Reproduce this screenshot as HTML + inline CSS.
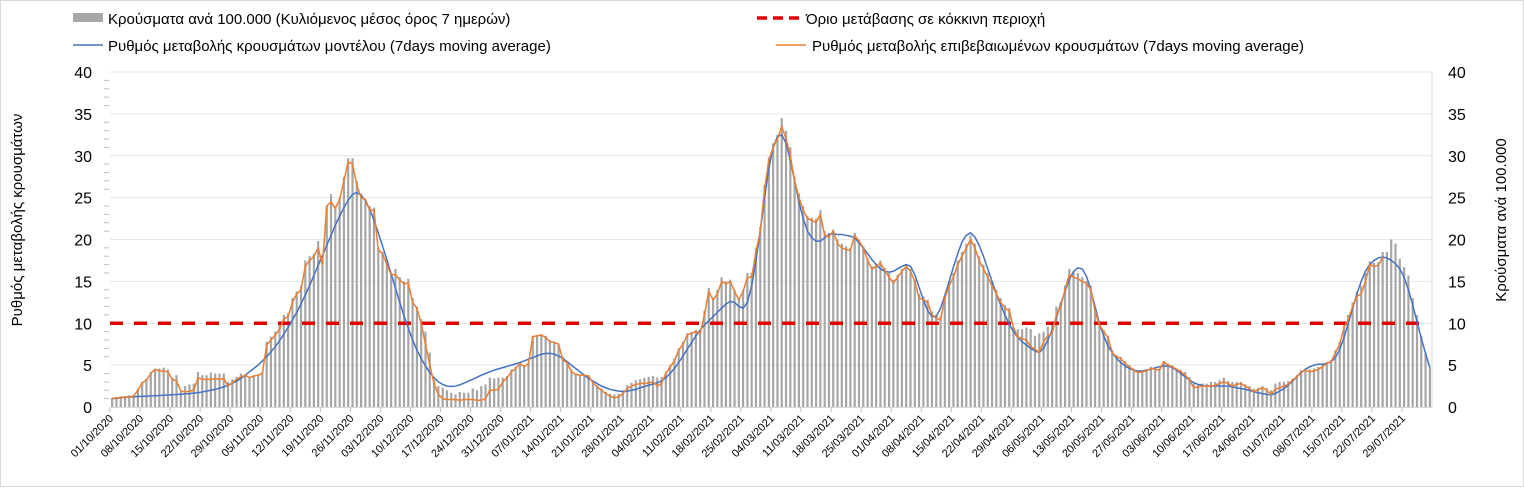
<!DOCTYPE html>
<html><head><meta charset="utf-8">
<style>
html,body{margin:0;padding:0;background:#fff;}
body{width:1524px;height:487px;overflow:hidden;font-family:"Liberation Sans","DejaVu Sans",sans-serif;}
svg text{font-family:"Liberation Sans","DejaVu Sans",sans-serif;}
</style></head>
<body>
<svg id="chart" width="1524" height="487" viewBox="0 0 1524 487" xmlns="http://www.w3.org/2000/svg">
  <rect x="0.5" y="0.5" width="1523" height="486" fill="#fff" stroke="#d9d9d9"/>
  <g id="grid"></g>
  <g id="bars"></g>
  <g id="lines"></g>
  <g id="axes"></g>
  <g>
    <g>
      <rect x="73" y="13" width="30" height="9" fill="#a6a6a6"/>
      <text x="108" y="24" font-size="15" fill="#000">Κρούσματα ανά 100.000 (Κυλιόμενος μέσος όρος 7 ημερών)</text>
    </g>
    <g>
      <line x1="757" y1="18" x2="800" y2="18" stroke="#e00000" stroke-width="3.5" stroke-dasharray="10,6"/>
      <text x="806" y="24" font-size="15" fill="#000">Όριο μετάβασης σε κόκκινη περιοχή</text>
    </g>
    <g>
      <line x1="73" y1="45" x2="103" y2="45" stroke="#4472c4" stroke-width="1.5"/>
      <text x="108" y="51" font-size="15" fill="#000">Ρυθμός μεταβολής κρουσμάτων μοντέλου (7days moving average)</text>
    </g>
    <g>
      <line x1="776" y1="45" x2="806" y2="45" stroke="#ed7d31" stroke-width="1.5"/>
      <text x="812" y="51" font-size="15" fill="#000">Ρυθμός μεταβολής επιβεβαιωμένων κρουσμάτων (7days moving average)</text>
    </g>
  </g>
  <text transform="translate(22,220) rotate(-90)" text-anchor="middle" font-size="15" fill="#000">Ρυθμός μεταβολής κρουσμάτων</text>
  <text transform="translate(1506,220) rotate(-90)" text-anchor="middle" font-size="15" fill="#000">Κρούσματα ανά 100.000</text>
</svg>
<script>
const barValues = [
1.1,1.2,1.3,1.3,1.4,1.4,2.2,
3.0,3.4,4.2,4.6,4.6,4.7,4.5,
3.5,3.8,2.0,2.5,2.7,2.8,4.2,
3.8,3.8,4.1,4.0,4.0,4.0,3.0,
3.3,3.6,4.0,3.9,3.6,3.8,3.9,
4.2,7.8,8.4,9.0,9.8,11.0,11.2,
13.0,13.8,14.5,17.5,18.0,18.3,19.8,
17.5,24.0,25.4,24.0,25.0,27.5,29.7,
29.7,27.0,25.5,24.5,24.0,23.8,19.0,
18.5,17.5,16.0,16.5,15.5,15.0,15.3,
13.0,12.0,10.5,9.0,6.5,3.2,2.5,
2.3,2.0,1.7,1.5,1.8,1.7,1.7,
2.2,2.0,2.5,2.7,3.5,3.4,3.5,
3.5,3.7,4.5,4.8,5.3,5.0,5.3,
8.5,8.6,8.7,8.5,8.0,7.8,7.6,
6.0,5.5,4.5,4.0,3.9,3.9,3.8,
3.0,2.6,2.2,1.8,1.6,1.5,1.6,
2.0,2.6,2.9,3.2,3.3,3.5,3.6,
3.7,3.5,3.6,4.2,5.0,5.8,7.0,
7.8,8.8,9.0,9.2,9.2,11.5,14.2,
13.0,14.0,15.5,15.0,15.2,14.0,13.0,
14.0,16.0,16.0,19.0,21.5,26.5,29.8,
31.5,32.5,34.5,33.0,31.0,27.5,25.5,
24.0,22.8,22.6,22.5,23.5,21.0,20.8,
21.2,20.0,19.5,19.2,19.0,20.8,20.0,
19.2,17.8,16.8,17.0,17.5,16.6,16.0,
15.2,15.8,16.5,17.0,16.5,15.2,13.5,
13.2,12.8,11.4,11.0,10.8,13.2,15.0,
16.0,17.5,18.5,19.5,20.5,19.5,18.0,
17.0,16.0,15.0,14.0,13.0,12.2,11.8,
9.5,9.3,9.3,9.5,9.3,8.5,8.8,
9.0,9.6,10.0,12.0,12.5,14.5,16.5,
16.2,16.0,15.5,15.0,14.5,12.0,10.0,
9.2,8.5,6.8,6.2,6.0,5.5,5.0,
4.6,4.2,4.3,4.5,4.8,4.7,4.6,
5.5,5.2,5.0,4.6,4.4,4.2,3.6,
2.8,2.7,2.8,2.8,3.0,3.0,3.2,
3.5,3.1,3.0,3.0,3.0,2.7,2.5,
2.2,2.3,2.5,2.3,2.0,2.8,3.0,
3.0,3.1,3.4,3.8,4.4,4.6,4.5,
4.6,4.8,5.1,5.4,5.6,6.8,7.8,
9.8,11.0,12.5,13.8,14.5,16.0,17.4,
17.2,17.3,18.5,18.5,20.0,19.5,17.7,
16.7,15.7,13.0,11.0,8.5,6.5,4.7
];
const orangeValues = [
1.0,1.1,1.1,1.2,1.2,1.3,2.0,
2.9,3.2,4.0,4.5,4.3,4.3,4.2,
3.3,3.1,1.9,1.8,1.9,2.0,3.5,
3.3,3.3,3.3,3.4,3.3,3.4,2.5,
2.9,3.3,3.6,3.8,3.5,3.7,3.8,
4.0,7.4,8.0,8.6,9.3,10.5,10.8,
12.5,13.5,14.0,16.8,17.5,18.0,19.0,
17.0,24.0,24.5,23.7,24.8,27.0,29.3,
29.0,26.5,25.0,24.8,23.5,23.5,18.8,
18.3,17.0,15.8,15.8,15.2,14.7,14.8,
12.5,11.8,10.0,7.5,5.0,2.8,1.5,
1.0,0.9,0.9,0.9,0.8,0.9,0.9,
0.9,0.8,0.8,1.0,2.0,2.0,2.1,
3.0,3.5,4.2,4.6,5.2,4.8,5.2,
8.4,8.5,8.6,8.3,7.8,7.7,7.5,
5.6,5.3,4.2,3.9,3.8,3.8,3.7,
2.9,2.4,2.0,1.6,1.3,1.1,1.2,
1.6,2.2,2.5,2.7,2.8,2.8,2.9,
3.0,2.5,2.8,4.0,4.8,5.5,6.8,
7.5,8.6,8.8,9.0,8.8,11.0,13.8,
12.8,13.5,15.0,14.7,15.0,13.8,12.8,
13.8,15.5,15.5,18.5,21.0,26.0,29.5,
31.0,32.0,33.5,32.0,30.0,27.0,25.0,
23.5,22.5,22.3,22.0,23.0,20.5,20.3,
21.0,19.5,19.0,18.8,18.7,20.5,19.8,
19.0,17.5,16.5,16.8,17.2,16.3,15.5,
14.8,15.5,16.2,16.8,16.2,15.0,13.0,
12.8,12.5,11.0,10.6,10.4,13.0,14.5,
15.5,17.0,18.0,19.0,20.0,19.0,17.5,
16.5,15.5,14.5,13.5,12.5,11.8,11.5,
9.5,8.3,8.2,8.0,7.2,6.9,6.5,
7.8,8.5,8.8,11.0,12.0,14.0,15.8,
15.5,15.3,15.0,14.8,14.0,11.5,9.8,
9.0,8.3,6.5,6.0,5.8,5.2,4.8,
4.4,4.1,4.2,4.3,4.6,4.5,4.4,
5.4,5.0,4.8,4.5,4.2,3.8,3.2,
2.3,2.4,2.5,2.5,2.5,2.6,2.8,
3.0,2.8,2.5,2.7,2.8,2.5,2.2,
1.8,2.1,2.3,2.0,1.5,2.1,2.3,
2.5,2.7,3.2,3.6,4.2,4.4,4.2,
4.3,4.5,4.8,5.2,5.4,6.5,7.5,
9.5,10.5,12.0,13.2,13.5,15.0,17.0,
16.8,16.9,17.9
];
const blueValues = [
1.0,1.05,1.1,1.15,1.2,1.22,1.25,
1.27,1.3,1.32,1.35,1.38,1.4,1.43,
1.46,1.5,1.53,1.57,1.6,1.65,1.7,
1.8,1.9,2.0,2.1,2.25,2.4,2.6,
2.85,3.1,3.4,3.8,4.2,4.6,5.0,
5.5,6.0,6.6,7.2,7.9,8.7,9.5,
10.4,11.3,12.3,13.4,14.5,15.7,16.9,
18.1,19.3,20.5,21.7,22.8,23.8,24.7,
25.4,25.6,25.3,24.6,23.6,22.3,20.8,
19.2,17.6,15.9,14.2,12.5,10.9,9.4,
8.0,6.8,5.8,4.9,4.1,3.5,3.0,
2.7,2.5,2.45,2.5,2.65,2.85,3.1,
3.3,3.55,3.8,4.0,4.2,4.4,4.55,
4.7,4.85,5.0,5.15,5.3,5.5,5.7,
5.9,6.1,6.3,6.4,6.4,6.3,6.1,
5.8,5.4,5.0,4.6,4.2,3.8,3.4,
3.1,2.8,2.5,2.3,2.1,2.0,1.9,
1.85,1.9,2.0,2.1,2.3,2.45,2.6,
2.75,2.9,3.1,3.5,4.0,4.6,5.3,
6.1,6.9,7.7,8.5,9.2,9.8,10.3,
10.8,11.3,11.8,12.3,12.6,12.5,12.0,
11.8,12.5,14.5,17.5,21.0,25.0,28.5,
31.0,32.3,32.5,31.5,29.5,27.0,24.5,
22.5,21.0,20.2,19.8,19.8,20.2,20.6,
20.7,20.6,20.6,20.5,20.4,20.2,19.6,
19.0,18.3,17.6,17.0,16.5,16.2,16.1,
16.2,16.5,16.8,17.0,16.8,15.8,14.3,
12.8,11.5,10.8,10.8,11.8,13.3,15.0,
16.7,18.3,19.7,20.5,20.8,20.3,19.3,
18.0,16.5,15.0,13.5,12.2,11.0,9.9,
9.0,8.3,7.8,7.4,7.0,6.7,6.5,
7.0,8.0,9.2,10.7,12.3,13.8,15.2,
16.2,16.6,16.5,15.6,14.0,12.0,10.0,
8.5,7.3,6.5,5.8,5.3,4.9,4.6,
4.4,4.3,4.3,4.4,4.5,4.7,4.8,
4.9,4.9,4.7,4.4,4.0,3.6,3.2,
2.9,2.7,2.6,2.5,2.5,2.5,2.5,
2.5,2.5,2.4,2.3,2.2,2.1,2.0,
1.8,1.7,1.6,1.5,1.45,1.6,1.9,
2.2,2.6,3.1,3.6,4.1,4.5,4.8,
5.0,5.1,5.1,5.2,5.4,5.9,6.9,
8.3,10.0,11.8,13.5,15.0,16.2,17.0,
17.5,17.8,17.9,17.8,17.5,17.1,16.5,
15.5,14.0,12.2,10.2,8.2,6.4,4.7
];
const thresholdValue = 10;
const yTickValues = [0,5,10,15,20,25,30,35,40];
const startDate = [2020, 10, 1]; // 01/10/2020 (year, month 1-12, day)
const tickEveryDays = 7;
const lastTickDay = 301;

const NS = "http://www.w3.org/2000/svg";
const X0 = 110, X1 = 1432, Y0 = 407, Y1 = 72, YMAX = 40;
const N = barValues.length;
const CW = (X1 - X0) / N;
function xBand(i){ return X0 + i * CW; }
function xCenter(i){ return X0 + (i + 0.5) * CW; }
function yScale(v){ return Y0 - (v / YMAX) * (Y0 - Y1); }
function mk(tag, attrs, parent){ const e = document.createElementNS(NS, tag); for (const k in attrs) e.setAttribute(k, attrs[k]); parent.appendChild(e); return e; }

const grid = document.getElementById('grid');
const axes = document.getElementById('axes');
yTickValues.forEach(v => {
  const y = yScale(v);
  if (v > 0) {
    const gl = mk('line', {x1: X0, x2: X1, y1: y, y2: y, stroke: '#e6e6e6', 'stroke-width': 1}, grid);
    
    
  }
  const lt = mk('text', {x: 92, y: y + 6, 'text-anchor': 'end', 'font-size': 16, fill: '#000'}, axes);
  lt.textContent = v;
  
  
  const rt = mk('text', {x: 1448, y: y + 6, 'text-anchor': 'start', 'font-size': 16, fill: '#000'}, axes);
  rt.textContent = v;
  
  
});
for (let v = 1; v < YMAX; v++) {
  if (v % 5 === 0) continue;
  const y = yScale(v);
  const mt = mk('line', {x1: 104, x2: 109, y1: y, y2: y, stroke: '#bfbfbf', 'stroke-width': 1}, axes);
  
  
}
const ra = mk('line', {x1: X1, x2: X1, y1: Y1, y2: Y0, stroke: '#d9d9d9', 'stroke-width': 1}, axes);


const xa = mk('line', {x1: X0, x2: X1, y1: Y0 + 0.5, y2: Y0 + 0.5, stroke: '#d9d9d9', 'stroke-width': 1}, axes);



const bars = document.getElementById('bars');
barValues.forEach((v, i) => {
  const y = yScale(v);
  const r = mk('rect', {x: xCenter(i) - 1.1, y: y, width: 2.2, height: Y0 - y, fill: '#a6a6a6'}, bars);
  
  
});

const lines = document.getElementById('lines');
const th = mk('line', {x1: X0, x2: X1 - 8, y1: yScale(thresholdValue), y2: yScale(thresholdValue), stroke: '#e00000', 'stroke-width': 3.5, 'stroke-dasharray': '13,11'}, lines);


function pathFor(arr){ return arr.map((v, i) => (i ? 'L' : 'M') + xCenter(i).toFixed(2) + ',' + yScale(v).toFixed(2)).join(' '); }
const bl = mk('path', {d: pathFor(blueValues), fill: 'none', stroke: '#4472c4', 'stroke-width': 1.5, 'stroke-linejoin': 'round'}, lines);


const ol = mk('path', {d: pathFor(orangeValues), fill: 'none', stroke: '#ed7d31', 'stroke-width': 1.5, 'stroke-linejoin': 'round'}, lines);



function pad(n){ return (n < 10 ? '0' : '') + n; }
for (let d = 0; d <= lastTickDay; d += tickEveryDays) {
  const x = xBand(d);
  const tk = mk('line', {x1: x, x2: x, y1: Y0, y2: Y0 + 5, stroke: '#bfbfbf', 'stroke-width': 1}, axes);
  
  
  const dt = new Date(startDate[0], startDate[1] - 1, startDate[2] + d);
  const label = pad(dt.getDate()) + '/' + pad(dt.getMonth() + 1) + '/' + dt.getFullYear();
  const t = mk('text', {'text-anchor': 'end', 'font-size': 11, fill: '#000', transform: 'translate(' + (x + 4) + ',' + (Y0 + 12) + ') rotate(-45)'}, axes);
  t.textContent = label;
  
  
}
</script>
</body></html>
